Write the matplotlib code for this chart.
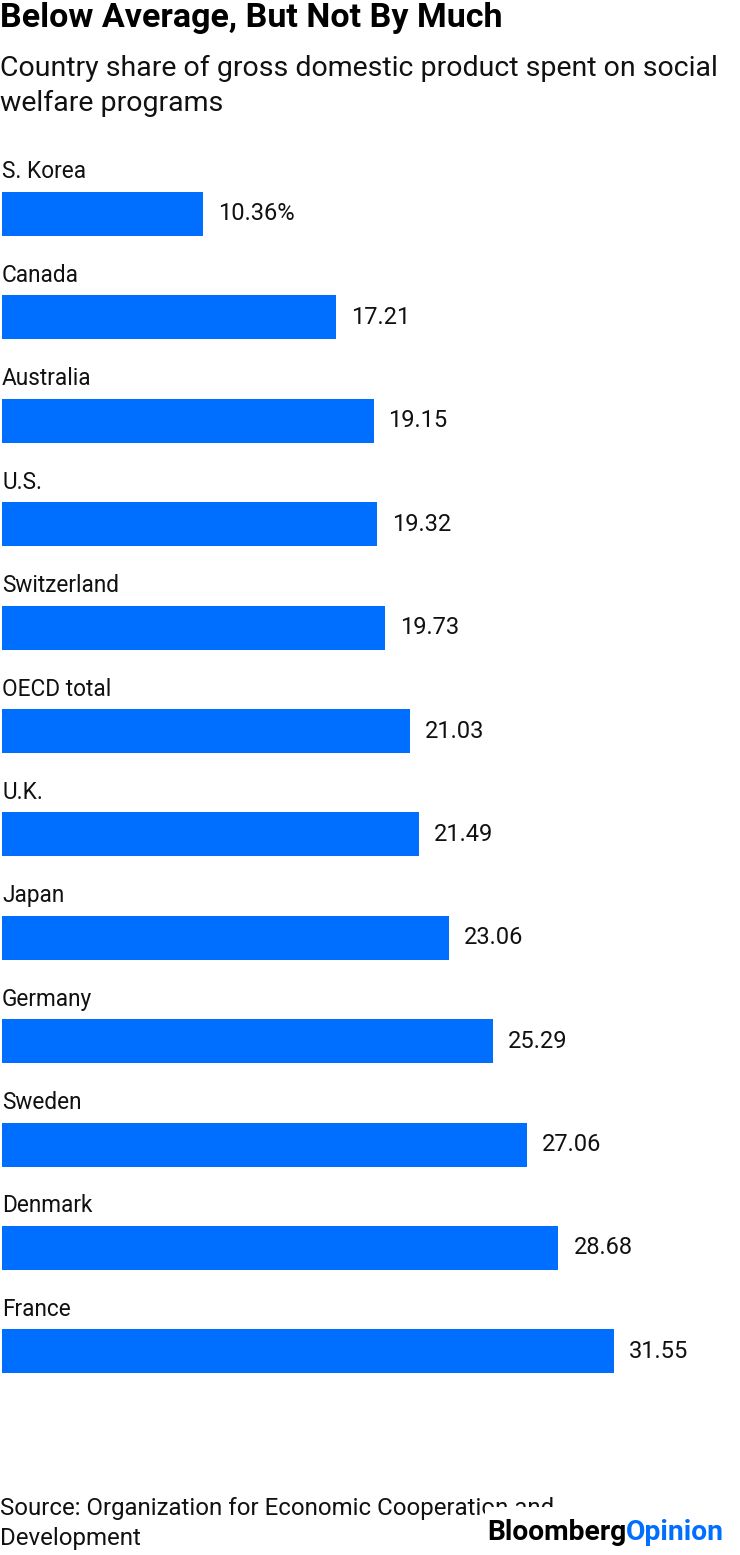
import matplotlib
matplotlib.use("Agg")
import matplotlib.pyplot as plt
from matplotlib.patches import Rectangle

countries = ["S. Korea", "Canada", "Australia", "U.S.", "Switzerland", "OECD total",
             "U.K.", "Japan", "Germany", "Sweden", "Denmark", "France"]
values = [10.36, 17.21, 19.15, 19.32, 19.73, 21.03, 21.49, 23.06, 25.29, 27.06, 28.68, 31.55]
value_labels = ["10.36%", "17.21", "19.15", "19.32", "19.73", "21.03", "21.49",
                "23.06", "25.29", "27.06", "28.68", "31.55"]

W, H = 740, 1555
BLUE = "#006EFF"
plt.rcParams['font.family'] = ['Roboto', 'DejaVu Sans']

fig = plt.figure(figsize=(W / 100, H / 100), dpi=100)
fig.patch.set_facecolor("white")

px_per_unit = 19.4
spacing = 103.4
ax_top, ax_bot = 140, 1400
ax = fig.add_axes([2 / W, (H - ax_bot) / H, (W - 2) / W, (ax_bot - ax_top) / H])
ax.set_xlim(0, (W - 2) / px_per_unit)
y0 = 214
ax.set_ylim((ax_bot - y0) / spacing, (ax_top - y0) / spacing)
ax.axis("off")

ypos = list(range(len(countries)))
ax.barh(ypos, values, height=44 / spacing, color=BLUE, edgecolor="none")
for i, (c, v, lab) in enumerate(zip(countries, values, value_labels)):
    ax.text(0, i - 42 / spacing, c, ha="left", va="center", fontsize=16.3, color="#111111")
    ax.text(v + 15 / px_per_unit, i, lab, ha="left", va="center", fontsize=17, color="#111111")

fig.text(0 / W, 1 - 18 / H, "Below Average, But Not By Much", ha="left", va="center",
         fontsize=24.5, fontweight="bold", color="#000000")
fig.text(0 / W, 1 - 68 / H, "Country share of gross domestic product spent on social",
         ha="left", va="center", fontsize=20.5, color="#111111")
fig.text(0 / W, 1 - 103 / H, "welfare programs",
         ha="left", va="center", fontsize=20.5, color="#111111")

fig.text(0 / W, 1 - 1509 / H, "Source: Organization for Economic Cooperation and",
         ha="left", va="center", fontsize=17.3, color="#111111")
fig.text(0 / W, 1 - 1539 / H, "Development",
         ha="left", va="center", fontsize=17.3, color="#111111")

fig.add_artist(Rectangle((485 / W, 0), (W - 485) / W, (H - 1507) / H,
                         transform=fig.transFigure, facecolor="white", edgecolor="none", zorder=5))
t1 = fig.text(487 / W, 1 - 1532 / H, "Bloomberg", ha="left", va="center",
              fontsize=20.3, fontweight="bold", color="#000000", zorder=6)
fig.canvas.draw()
bb = t1.get_window_extent()
fig.text(bb.x1 / W, 1 - 1532 / H, "Opinion", ha="left", va="center",
         fontsize=20.3, fontweight="bold", color=BLUE, zorder=6)

fig.savefig("out.png", dpi=100, facecolor="white")
